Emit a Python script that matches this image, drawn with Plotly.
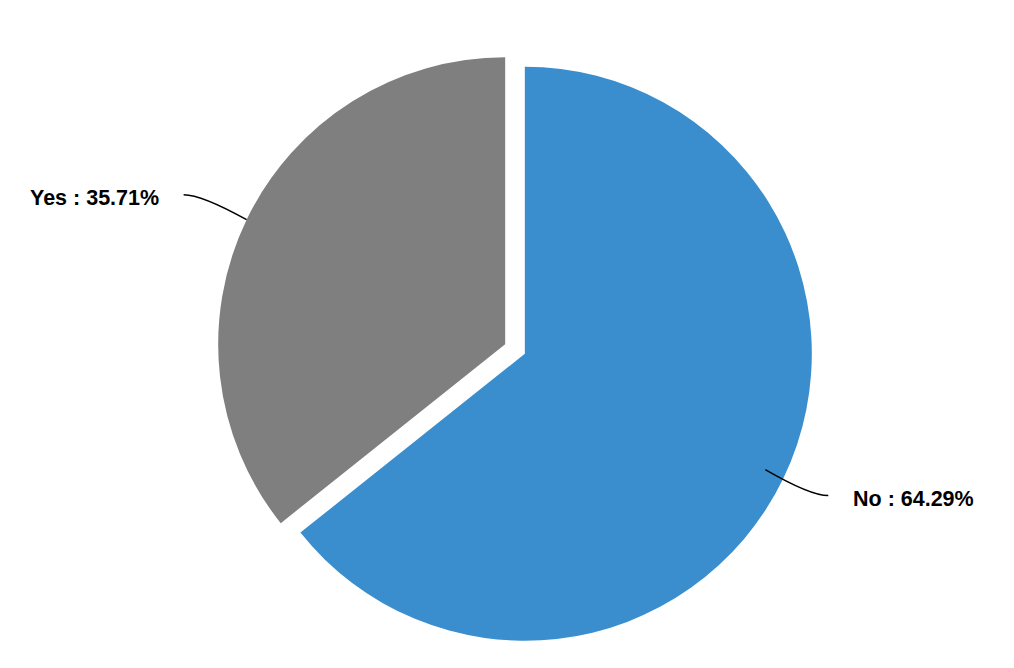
import math
import plotly.graph_objects as go

labels = ["No", "Yes"]
values = [64.29, 35.71]
colors = ["#3a8ecd", "#7f7f7f"]

# page body has an 8px margin, so the figure is a bit smaller than the window
OFF = 8
W, H = 1014 - 2 * OFF, 668 - 2 * OFF
cx, cy, r = 515, 349, 287   # pie centre / radius in window pixels
pull = 0.038
leader_r = [0.93, 1.0]

def px(x, y):
	return (x - OFF) / W, 1 - (y - OFF) / H

half = r * (1 + pull)
x0, y1 = px(cx - half, cy - half)
x1, y0 = px(cx + half, cy + half)

fig = go.Figure()
fig.add_trace(go.Pie(
	labels=labels,
	values=values,
	sort=False,
	direction="clockwise",
	rotation=0,
	pull=[pull] * len(values),
	marker=dict(colors=colors, line=dict(width=0)),
	textinfo="none",
	hovertemplate="%{label}: %{percent:.2%}<extra></extra>",
	showlegend=False,
	domain=dict(x=[x0, x1], y=[y0, y1]),
))

# leader lines + labels, placed from slice mid angles
shapes = []
annotations = []
total = sum(values)
cum = 0
for lab, v, lr in zip(labels, values, leader_r):
	mid = (cum + v / 2) / total * 2 * math.pi
	cum += v
	dx, dy = math.sin(mid), -math.cos(mid)
	ox, oy = cx + dx * pull * r, cy + dy * pull * r
	sx, sy = ox + dx * r * lr, oy + dy * r * lr
	side = 1 if dx > 0 else -1
	ex = sx + side * 63
	ey = sy + (26 if dy > 0 else -25)
	qx, qy = ex - side * 18, ey
	p0, p1, p2 = px(sx, sy), px(qx, qy), px(ex, ey)
	shapes.append(dict(type="path", xref="paper", yref="paper",
					   path="M %f,%f Q %f,%f %f,%f" % (p0[0], p0[1], p1[0], p1[1], p2[0], p2[1]),
					   line=dict(color="black", width=1.5)))
	tx, ty = px(ex + side * 23, ey + 3)
	annotations.append(dict(text="<b>%s : %.2f%%</b>" % (lab, v / total * 100),
							x=tx, y=ty, xref="paper", yref="paper",
							xanchor="left" if side > 0 else "right", yanchor="middle",
							showarrow=False, font=dict(size=21.5, color="black", family="Liberation Sans, Arial")))

fig.update_layout(
	width=W, height=H,
	margin=dict(l=0, r=0, t=0, b=0),
	paper_bgcolor="white",
	shapes=shapes,
	annotations=annotations,
)

fig.write_html("out.html")
